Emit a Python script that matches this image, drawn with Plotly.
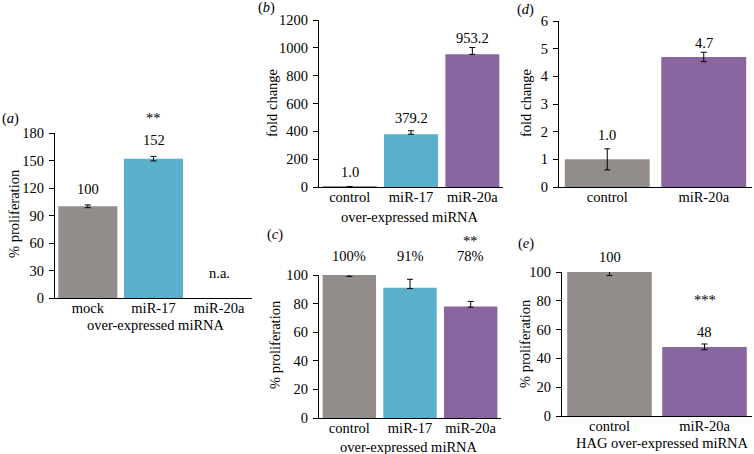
import plotly.graph_objects as go

W, H = 754, 454
FONT = "Times New Roman, Liberation Serif, serif"
GREY = "#928d8b"
BLUE = "#5aafcb"
PURPLE = "#8a66a0"

# ---- data ----
a_cats = ["mock", "miR-17", "miR-20a"]
a_vals = [100, 152, None]
a_err = [1.5, 2.5, None]
a_labels = ["100", "152", None]

b_cats = ["control", "miR-17", "miR-20a"]
b_vals = [1.0, 379.2, 953.2]
b_err_plus = [0, 25, 49]
b_err_minus = [0, 0, 0]
b_labels = ["1.0", "379.2", "953.2"]

c_cats = ["control", "miR-17", "miR-20a"]
c_vals = [100, 91, 78]
c_err_plus = [2.5, 6, 3.5]
c_err_minus = [1, 0.5, 0.5]
c_labels = ["100%", "91%", "78%"]

d_cats = ["control", "miR-20a"]
d_vals = [1.0, 4.7]
d_err = [0.38, 0.17]
d_labels = ["1.0", "4.7"]

e_cats = ["control", "miR-20a"]
e_vals = [100, 48]
e_err = [2.5, 2]
e_labels = ["100", "48"]

a_ticks = [0, 30, 60, 90, 120, 150, 180]
b_ticks = [0, 200, 400, 600, 800, 1000, 1200]
c_ticks = [0, 20, 40, 60, 80, 100]
d_ticks = [0, 1, 2, 3, 4, 5, 6]
e_ticks = [0, 20, 40, 60, 80, 100]


def px(x):
    return x / W


def py(y):
    return (H - y) / H


fig = go.Figure()

err_style = dict(type="data", color="black", thickness=1, width=3)

fig.add_trace(go.Bar(x=a_cats, y=a_vals, marker_color=[GREY, BLUE, GREY], width=0.9,
                     error_y=dict(array=a_err, **err_style), xaxis="x", yaxis="y"))
fig.add_trace(go.Bar(x=b_cats, y=b_vals, marker_color=[GREY, BLUE, PURPLE], width=0.88,
                     error_y=dict(array=b_err_plus, arrayminus=b_err_minus, symmetric=False, **err_style),
                     xaxis="x2", yaxis="y2"))
fig.add_trace(go.Bar(x=c_cats, y=c_vals, marker_color=[GREY, BLUE, PURPLE], width=0.88,
                     error_y=dict(array=c_err_plus, arrayminus=c_err_minus, symmetric=False, **err_style),
                     xaxis="x3", yaxis="y3"))
fig.add_trace(go.Bar(x=d_cats, y=d_vals, marker_color=[GREY, PURPLE], width=0.88,
                     error_y=dict(array=d_err, **err_style), xaxis="x4", yaxis="y4"))
fig.add_trace(go.Bar(x=e_cats, y=e_vals, marker_color=[GREY, PURPLE], width=0.89,
                     error_y=dict(array=e_err, **err_style), xaxis="x5", yaxis="y5"))

fs = 14.5
tickfont = dict(family=FONT, size=fs, color="black")
xcommon = dict(showline=True, linecolor="black", linewidth=1, ticks="", showgrid=False,
               zeroline=False, tickfont=tickfont, fixedrange=True, automargin=False,
               ticklabelstandoff=-3)
ycommon = dict(showline=True, linecolor="black", linewidth=1, ticks="outside", ticklen=5,
               tickcolor="black", showgrid=False, zeroline=False, tickfont=tickfont,
               fixedrange=True, automargin=False, ticklabelstandoff=2)

layout = dict(
    template="none",
    width=W, height=H, autosize=False, showlegend=False,
    margin=dict(l=0, r=0, t=0, b=0, pad=0, autoexpand=False),
    paper_bgcolor="white", plot_bgcolor="white",
    font=dict(family=FONT, size=fs, color="black"),
    xaxis=dict(domain=[px(55), px(252)], anchor="y", **xcommon),
    yaxis=dict(domain=[py(298), py(133)], anchor="x", range=[0, 180], tickvals=a_ticks, **ycommon),
    xaxis2=dict(domain=[px(319), px(503)], anchor="y2", **xcommon),
    yaxis2=dict(domain=[py(187), py(20)], anchor="x2", range=[0, 1200], tickvals=b_ticks, **ycommon),
    xaxis3=dict(domain=[px(319), px(501)], anchor="y3", **xcommon),
    yaxis3=dict(domain=[py(418), py(275)], anchor="x3", range=[0, 100], tickvals=c_ticks, **ycommon),
    xaxis4=dict(domain=[px(559), px(752)], anchor="y4", **xcommon),
    yaxis4=dict(domain=[py(187), py(21)], anchor="x4", range=[0, 6], tickvals=d_ticks, **ycommon),
    xaxis5=dict(domain=[px(562), px(752)], anchor="y5", **xcommon),
    yaxis5=dict(domain=[py(416), py(272)], anchor="x5", range=[0, 100], tickvals=e_ticks, **ycommon),
)
fig.update_layout(**layout)

ann = []


def value_labels(cats, vals, errs, labels, xr, yr, ymax, shifts):
    for c, v, e, t, s in zip(cats, vals, errs, labels, shifts):
        if v is None or t is None:
            continue
        ann.append(dict(x=c, y=min(v + (e or 0), ymax), xref=xr, yref=yr, text=t, showarrow=False,
                        yanchor="middle", yshift=s, font=dict(size=fs)))


value_labels(a_cats, a_vals, a_err, a_labels, "x", "y", 180, [16, 16, 0])
value_labels(b_cats, b_vals, b_err_plus, b_labels, "x2", "y2", 1200, [15, 13, 10])
value_labels(d_cats, d_vals, d_err, d_labels, "x4", "y4", 6, [14, 9])
value_labels(e_cats, e_vals, e_err, e_labels, "x5", "y5", 100, [15, 12])
for c, t in zip(c_cats, c_labels):
    ann.append(dict(x=c, y=py(256), xref="x3", yref="paper", text=t, showarrow=False,
                    yanchor="middle", font=dict(size=fs)))

# significance marks and n.a.
ann.append(dict(x="miR-17", y=py(118), xref="x", yref="paper", text="**", showarrow=False,
                yanchor="middle", font=dict(size=fs)))
ann.append(dict(x="miR-20a", y=0, xref="x", yref="y", text="n.a.", showarrow=False,
                yanchor="middle", yshift=25, font=dict(size=fs)))
ann.append(dict(x="miR-20a", y=py(241), xref="x3", yref="paper", text="**", showarrow=False,
                yanchor="middle", font=dict(size=fs)))
ann.append(dict(x="miR-20a", y=py(300), xref="x5", yref="paper", text="***", showarrow=False,
                yanchor="middle", font=dict(size=fs)))

# panel letters
for t, x, y in [("a", 10, 118), ("b", 266, 7), ("c", 275, 234), ("d", 525, 9), ("e", 526, 244)]:
    ann.append(dict(x=px(x), y=py(y), xref="paper", yref="paper", text=f"(<i>{t}</i>)",
                    showarrow=False, xanchor="center", yanchor="middle", font=dict(size=fs)))

# axis titles
for t, x, y in [("% proliferation", 14, 214), ("fold change", 272, 103),
                ("% proliferation", 275, 345), ("fold change", 526, 103),
                ("% proliferation", 525, 344)]:
    ann.append(dict(x=px(x), y=py(y), xref="paper", yref="paper", text=t, textangle=-90,
                    showarrow=False, xanchor="center", yanchor="middle", font=dict(size=fs)))
for t, x, y in [("over-expressed miRNA", 156, 325), ("over-expressed miRNA", 410, 217),
                ("over-expressed miRNA", 409, 447), ("HAG over-expressed miRNA", 662, 443)]:
    ann.append(dict(x=px(x), y=py(y), xref="paper", yref="paper", text=t,
                    showarrow=False, xanchor="center", yanchor="middle", font=dict(size=fs)))

fig.update_layout(annotations=ann)
fig.write_html("out.html", config={"displayModeBar": False},
               post_script="document.body.style.margin='0px';")
